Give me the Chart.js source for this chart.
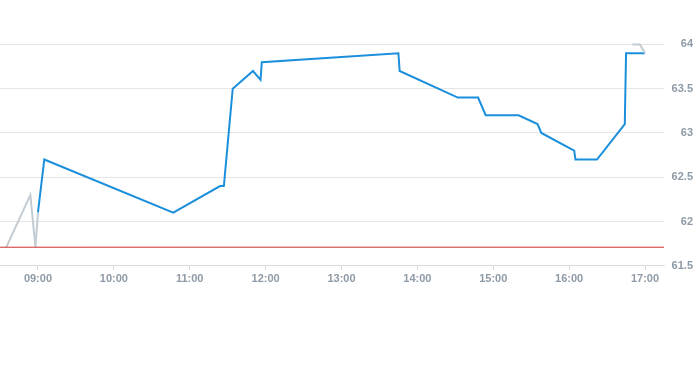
<!DOCTYPE html>
<html>
<head>
<meta charset="utf-8">
<script src="https://cdn.jsdelivr.net/npm/chart.js@4/dist/chart.umd.min.js"></script>
<style>
  html, body { margin: 0; padding: 0; background: #fff; }
  #wrap { width: 693px; height: 365px; }
</style>
</head>
<body>
<div id="wrap"><canvas id="priceChart" width="693" height="365"></canvas></div>
<script>
// regular session
const sessionTimes = ['09:00', '09:05', '10:47', '11:24', '11:27', '11:34', '11:50', '11:56', '11:57',
  '13:45', '13:46', '14:32', '14:48', '14:54', '15:20', '15:35', '15:38', '16:04', '16:05',
  '16:22', '16:44', '16:45', '17:00'];
const sessionValues = [62.1, 62.7, 62.1, 62.4, 62.4, 63.5, 63.7, 63.6, 63.8,
  63.9, 63.7, 63.4, 63.4, 63.2, 63.2, 63.1, 63.0, 62.8, 62.7,
  62.7, 63.1, 63.9, 63.9];

// pre / after market
const preTimes = ['08:35', '08:54', '08:58', '09:00'];
const preValues = [61.71, 62.3, 61.71, 62.1];
const postTimes = ['16:50', '16:56', '17:00'];
const postValues = [64.0, 64.0, 63.9];

const prevClose = 61.71;
const tickLabels = ['09:00', '10:00', '11:00', '12:00', '13:00', '14:00', '15:00', '16:00', '17:00'];
const xStart = '08:30';
const xEnd = '17:15';

function toMin(t) {
  const p = t.split(':');
  return +p[0] * 60 + +p[1];
}
function fmt(m) {
  const h = Math.floor(m / 60), mm = m % 60;
  return String(h).padStart(2, '0') + ':' + String(mm).padStart(2, '0');
}
function pts(times, vals) {
  return times.map((t, i) => ({ x: toMin(t), y: vals[i] }));
}

const tickFont = { family: 'Liberation Sans', size: 11, weight: 'bold' };
const tickColor = '#8e9aa6';

new Chart(document.getElementById('priceChart').getContext('2d'), {
  type: 'line',
  data: {
    datasets: [
      {
        label: 'Previous close',
        data: [{ x: toMin(xStart), y: prevClose }, { x: toMin(xEnd), y: prevClose }],
        borderColor: '#c9302c',
        borderWidth: 1,
        pointRadius: 0
      },
      {
        label: 'Pre market',
        data: pts(preTimes, preValues),
        borderColor: '#c3ccd2',
        borderWidth: 2,
        pointRadius: 0,
        tension: 0
      },
      {
        label: 'After market',
        data: pts(postTimes, postValues),
        borderColor: '#c3ccd2',
        borderWidth: 2,
        pointRadius: 0,
        tension: 0
      },
      {
        label: 'Price',
        data: pts(sessionTimes, sessionValues),
        borderColor: '#1b8fdb',
        borderWidth: 2,
        pointRadius: 0,
        tension: 0
      }
    ]
  },
  options: {
    responsive: false,
    animation: false,
    layout: { padding: { top: 9, bottom: 76, left: 0, right: 0 } },
    plugins: { legend: { display: false }, tooltip: { enabled: false } },
    scales: {
      x: {
        type: 'linear',
        min: toMin(xStart),
        max: toMin(xEnd),
        afterBuildTicks: axis => { axis.ticks = tickLabels.map(t => ({ value: toMin(t) })); },
        grid: { drawOnChartArea: false, drawTicks: true, tickLength: 4, color: '#d6dbe0' },
        border: { display: true, color: '#d6dbe0' },
        ticks: {
          autoSkip: false,
          maxRotation: 0,
          padding: 3,
          font: tickFont,
          color: tickColor,
          callback: v => fmt(v)
        }
      },
      y: {
        position: 'right',
        min: 61.5,
        max: 64.4,
        afterFit: axis => {
          axis.width = 29;
          axis.paddingTop = 0;
          axis.paddingBottom = 0;
        },
        grid: { color: '#e6e6e6', drawTicks: false },
        border: { display: false },
        ticks: {
          stepSize: 0.5,
          includeBounds: false,
          padding: 9,
          crossAlign: 'far',
          font: tickFont,
          color: tickColor,
          callback: v => String(+v.toFixed(1))
        }
      }
    }
  }
});
</script>
</body>
</html>
